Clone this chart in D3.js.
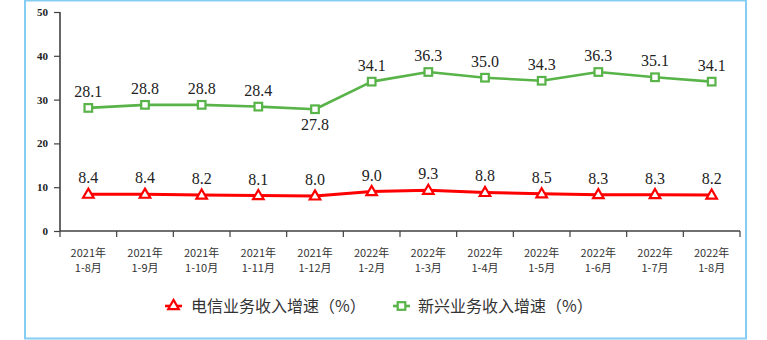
<!DOCTYPE html>
<html>
<head>
<meta charset="utf-8">
<script src="https://cdn.jsdelivr.net/npm/d3@7/dist/d3.min.js"></script>
<style>
  html, body { margin: 0; padding: 0; background: #fff; }
  svg { display: block; }
</style>
</head>
<body>
<svg id="chart" width="767" height="340"></svg>
<script>
// Periods (two-line labels: year / month range)
const years = ["2021年","2021年","2021年","2021年","2021年","2022年","2022年","2022年","2022年","2022年","2022年","2022年"];
const months = ["1-8月","1-9月","1-10月","1-11月","1-12月","1-2月","1-3月","1-4月","1-5月","1-6月","1-7月","1-8月"];
const categories = years.map((y, i) => y + months[i]);

// Growth rates (%)
const telecomGrowth = [8.4, 8.4, 8.2, 8.1, 8.0, 9.0, 9.3, 8.8, 8.5, 8.3, 8.3, 8.2];
const emergingGrowth = [28.1, 28.8, 28.8, 28.4, 27.8, 34.1, 36.3, 35.0, 34.3, 36.3, 35.1, 34.1];

const yTicks = [0, 10, 20, 30, 40, 50];
const seriesNames = ["电信业务收入增速（%）", "新兴业务收入增速（%）"];

const RED = "#ff0000";
const GREEN = "#58b348";
const AXIS = "#404040";
const TEXT = "#333333";
const SERIF = "'Liberation Serif', 'DejaVu Serif', serif";
const CJK = "'Noto Sans CJK SC', sans-serif";

const svg = d3.select("#chart");

// Frame
svg.append("rect")
  .attr("x", 25).attr("y", 0.5)
  .attr("width", 721).attr("height", 338)
  .attr("fill", "none")
  .attr("stroke", "#86cdf3")
  .attr("stroke-width", 2);

const x = d3.scaleBand().domain(categories).range([60, 740]).padding(0);
const y = d3.scaleLinear().domain([0, 50]).range([231, 12]);
const cx = d => x(d) + x.bandwidth() / 2;

// Y axis
const yAxis = svg.append("g")
  .attr("transform", "translate(60,0)")
  .call(d3.axisLeft(y).tickValues(yTicks).tickSize(6).tickPadding(6).tickFormat(d3.format("d")));
yAxis.select(".domain").attr("stroke", AXIS).attr("stroke-width", 1.6).attr("d", `M0,${y(50)}V${y(0)}`);
yAxis.selectAll(".tick line").attr("stroke", AXIS).attr("stroke-width", 1.2);
yAxis.selectAll(".tick text")
  .style("font-family", SERIF)
  .style("font-weight", "bold")
  .style("font-size", "11px")
  .attr("fill", "#222");

// X axis: ticks at band boundaries, labels centered in bands
const xAxis = svg.append("g").attr("transform", `translate(0,${y(0)})`);
xAxis.append("line")
  .attr("x1", 60).attr("x2", 740)
  .attr("stroke", AXIS).attr("stroke-width", 1.6);
const bounds = categories.map(c => x(c)).concat([x.range()[1]]);
xAxis.selectAll("line.tk").data(bounds).join("line")
  .attr("class", "tk")
  .attr("x1", d => d).attr("x2", d => d)
  .attr("y1", 0).attr("y2", 6)
  .attr("stroke", AXIS).attr("stroke-width", 1.2);

const catLabels = svg.append("g")
  .style("font-family", CJK)
  .style("font-size", "11px")
  .attr("fill", TEXT)
  .attr("text-anchor", "middle");
catLabels.selectAll("text.yr").data(categories).join("text")
  .attr("class", "yr")
  .attr("x", d => cx(d)).attr("y", 256.5)
  .text((d, i) => years[i]);
catLabels.selectAll("text.mo").data(categories).join("text")
  .attr("class", "mo")
  .attr("x", d => cx(d)).attr("y", 272)
  .text((d, i) => months[i]);

// Lines
const line = vals => d3.line()
  .x((d, i) => cx(categories[i]))
  .y(d => y(d))(vals);

svg.append("path").attr("d", line(emergingGrowth))
  .attr("fill", "none").attr("stroke", GREEN).attr("stroke-width", 2.6)
  .attr("stroke-linejoin", "round");
svg.append("path").attr("d", line(telecomGrowth))
  .attr("fill", "none").attr("stroke", RED).attr("stroke-width", 3)
  .attr("stroke-linejoin", "round");

// Markers
const tri = d3.symbol().type(d3.symbolTriangle).size(48);
const drawTri = (g, px, py) => g.append("path")
  .attr("d", tri())
  .attr("transform", `translate(${px},${py})`)
  .attr("fill", "#fff").attr("stroke", RED).attr("stroke-width", 2.2);
const drawSq = (g, px, py) => g.append("rect")
  .attr("x", px - 3.8).attr("y", py - 3.8)
  .attr("width", 7.6).attr("height", 7.6)
  .attr("fill", "#fff").attr("stroke", GREEN).attr("stroke-width", 2.2);

const marks = svg.append("g");
emergingGrowth.forEach((v, i) => drawSq(marks, cx(categories[i]), y(v)));
telecomGrowth.forEach((v, i) => drawTri(marks, cx(categories[i]), y(v) + 0.5));

// Value labels
const labels = svg.append("g")
  .style("font-family", SERIF)
  .style("font-size", "16px")
  .attr("fill", "#222")
  .attr("text-anchor", "middle");
emergingGrowth.forEach((v, i) => {
  const below = i === 4;
  labels.append("text")
    .attr("x", cx(categories[i]))
    .attr("y", below ? y(v) + 21 : y(v) - 11)
    .text(v.toFixed(1));
});
telecomGrowth.forEach((v, i) => {
  labels.append("text")
    .attr("x", cx(categories[i]))
    .attr("y", y(v) - 11)
    .text(v.toFixed(1));
});

// Legend
const legend = svg.append("g")
  .style("font-family", CJK)
  .style("font-size", "16px")
  .attr("fill", TEXT);
const legendItems = [
  { name: seriesNames[0], color: RED, x0: 165, tx: 191, kind: "tri" },
  { name: seriesNames[1], color: GREEN, x0: 393, tx: 418, kind: "sq" }
];
legendItems.forEach(it => {
  const ly = 306;
  legend.append("line")
    .attr("x1", it.x0).attr("x2", it.x0 + 17)
    .attr("y1", ly).attr("y2", ly)
    .attr("stroke", it.color).attr("stroke-width", 2.6);
  if (it.kind === "tri") drawTri(legend, it.x0 + 8.5, ly);
  else drawSq(legend, it.x0 + 8.5, ly);
  legend.append("text")
    .attr("x", it.tx).attr("y", ly + 5.5)
    .text(it.name);
});
</script>
</body>
</html>
